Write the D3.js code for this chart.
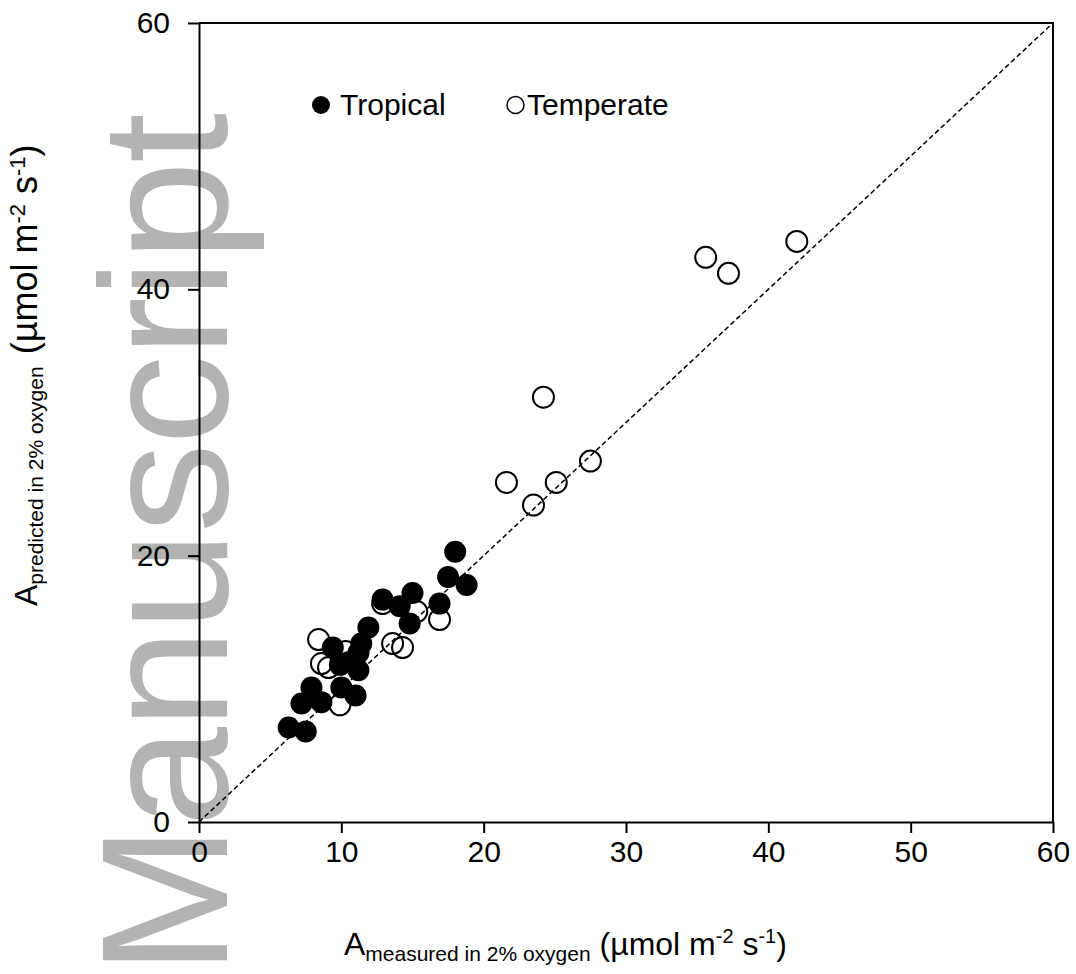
<!DOCTYPE html>
<html>
<head>
<meta charset="utf-8">
<script src="https://cdn.jsdelivr.net/npm/d3@7"></script>
<style>
  body { margin: 0; background: #fff; }
  text { font-family: "Liberation Sans", Arial, sans-serif; }
</style>
</head>
<body>
<svg width="1076" height="974"></svg>
<script>
// measured vs predicted A (µmol m-2 s-1)
var tropicalX = [18.0, 17.5, 18.8, 12.9, 15.0, 14.1, 16.9, 14.8, 11.9, 11.4, 9.4, 11.2, 9.9, 11.2, 10.5, 7.9, 10.0, 11.0, 7.2, 8.6, 6.3, 7.5];
var tropicalY = [20.3, 18.4, 17.8, 16.7, 17.2, 16.2, 16.4, 14.9, 14.6, 13.4, 13.1, 12.7, 11.8, 11.4, 12.0, 10.1, 10.1, 9.5, 8.9, 9.0, 7.1, 6.8];

var temperateX = [12.9, 15.3, 16.9, 8.4, 13.6, 14.3, 8.6, 9.1, 9.9, 10.3, 24.2, 21.6, 25.1, 23.5, 27.5, 35.6, 37.2, 42.0];
var temperateY = [16.4, 15.8, 15.2, 13.7, 13.4, 13.1, 11.9, 11.6, 8.8, 12.8, 31.9, 25.5, 25.5, 23.8, 27.1, 42.4, 41.2, 43.6];

var xTicks = [0, 10, 20, 30, 40, 50, 60];
var yTicks = [0, 20, 40, 60];

var svg = d3.select("svg");

var x = d3.scaleLinear().domain([0, 60]).range([199, 1053]),
	y = d3.scaleLinear().domain([0, 60]).range([822, 23]);

// watermark
svg.append("text")
	.attr("transform", "translate(227,975) rotate(-90)")
	.attr("textLength", 862)
	.attr("lengthAdjust", "spacing")
	.style("font-size", "180px")
	.attr("fill", "#b3b3b3")
	.text("Manuscript");

// axes
var g = svg.append("g");

g.append("g")
	.attr("transform", "translate(0,822)")
	.call(d3.axisBottom(x).tickValues(xTicks).tickSize(11).tickPadding(8).tickSizeOuter(0))
	.call(a => a.selectAll("text").style("font-size", "30px").attr("fill", "#000"));

g.append("g")
	.attr("transform", "translate(199,0)")
	.call(d3.axisLeft(y).tickValues(yTicks).tickSize(11).tickPadding(18).tickSizeOuter(0))
	.call(a => a.selectAll("text").style("font-size", "30px").attr("fill", "#000"));

g.selectAll(".domain").attr("stroke", "#000").attr("stroke-width", 2);
g.selectAll(".tick line").attr("stroke", "#000").attr("stroke-width", 2);

// top and right frame
svg.append("path")
	.attr("d", "M" + x(0) + "," + y(60) + "H" + x(60) + "V" + y(0))
	.attr("fill", "none")
	.attr("stroke", "#000")
	.attr("stroke-width", 2);

// 1:1 line
svg.append("line")
	.attr("x1", x(0)).attr("y1", y(0))
	.attr("x2", x(60)).attr("y2", y(60))
	.attr("stroke", "#000")
	.attr("stroke-width", 1.5)
	.attr("stroke-dasharray", "5,3");

// points
svg.selectAll(".temperate")
	.data(temperateX)
	.enter().append("circle")
	.attr("class", "temperate")
	.attr("cx", d => x(d))
	.attr("cy", (d, i) => y(temperateY[i]))
	.attr("r", 10.5)
	.attr("fill", "none")
	.attr("stroke", "#000")
	.attr("stroke-width", 2);

svg.selectAll(".tropical")
	.data(tropicalX)
	.enter().append("circle")
	.attr("class", "tropical")
	.attr("cx", d => x(d))
	.attr("cy", (d, i) => y(tropicalY[i]))
	.attr("r", 11)
	.attr("fill", "#000");

// legend
svg.append("circle").attr("cx", 321).attr("cy", 105).attr("r", 9).attr("fill", "#000");
svg.append("text").attr("x", 340).attr("y", 115).style("font-size", "30px").text("Tropical");
svg.append("circle").attr("cx", 515.5).attr("cy", 105).attr("r", 8.5)
	.attr("fill", "none").attr("stroke", "#000").attr("stroke-width", 1.5);
svg.append("text").attr("x", 527).attr("y", 115).style("font-size", "30px").text("Temperate");

// axis titles
function axisTitle(sel, sub, big, gap) {
	var supSize = Math.round(big * 0.62) + "px";
	sel.append("tspan").style("font-size", "32px").text("A");
	sel.append("tspan").attr("dy", 6).style("font-size", "21px").text(sub);
	sel.append("tspan").attr("dy", -6).attr("dx", gap).style("font-size", big + "px").text(" (µmol m");
	sel.append("tspan").attr("dy", -12).style("font-size", supSize).text("-2");
	sel.append("tspan").attr("dy", 12).style("font-size", big + "px").text(" s");
	sel.append("tspan").attr("dy", -12).style("font-size", supSize).text("-1");
	sel.append("tspan").attr("dy", 12).style("font-size", big + "px").text(")");
}

svg.append("text")
	.attr("x", 344).attr("y", 955)
	.call(axisTitle, "measured in 2% oxygen", 32, 0);

svg.append("text")
	.attr("transform", "translate(37,606) rotate(-90)")
	.call(axisTitle, "predicted in 2% oxygen", 36, 2);
</script>
</body>
</html>
